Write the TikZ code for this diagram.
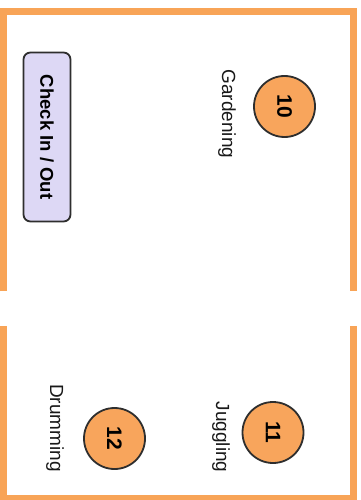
\documentclass[tikz,border=0pt]{standalone}
\usepackage{fontspec}
\setmainfont{Liberation Sans}
\definecolor{frameor}{HTML}{F8A457}
\definecolor{circor}{HTML}{F8A55C}
\definecolor{lav}{HTML}{DDD8F5}
\definecolor{edge}{HTML}{2E2E2E}
\begin{document}
\begin{tikzpicture}[x=1pt,y=-1pt,
  frame/.style={draw=frameor,line width=7pt},
  spot/.style={circle,draw=edge,line width=1.8pt,fill=circor,minimum size=61pt,inner sep=0pt,rotate=-90,font=\fontsize{21}{22}\selectfont\bfseries},
  lbl/.style={rotate=-90,inner sep=0pt,font=\fontsize{19}{20}\selectfont,text=black!90},
  desk/.style={draw=edge,line width=1.8pt,fill=lav,rounded corners=7pt,minimum width=169pt,minimum height=47pt,inner sep=0pt,rotate=-90,font=\fontsize{18.5}{20}\selectfont\bfseries}]
\useasboundingbox (0,0) rectangle (360,500);
\fill[white] (0,0) rectangle (360,500);
\coordinate (tl1) at (3.5,291);
\coordinate (tl2) at (3.5,11.5);
\coordinate (tr2) at (353.5,11.5);
\coordinate (tr1) at (353.5,291);
\coordinate (bl1) at (3.5,326);
\coordinate (bl2) at (3.5,498.5);
\coordinate (br2) at (353.5,498.5);
\coordinate (br1) at (353.5,326);
\draw[frame] (tl1) -- (tl2) -- (tr2) -- (tr1);
\draw[frame] (bl1) -- (bl2) -- (br2) -- (br1);
\node[desk] (desk) at (47,137) {Check In / Out};
\node[spot] (s10) at (284.5,106.5) {10};
\node[lbl] (l10) at (227,114) {Gardening};
\node[spot] (s11) at (273,432.5) {11};
\node[lbl] (l11) at (221,437) {Juggling};
\node[spot] (s12) at (114.5,438.5) {12};
\node[lbl] (l12) at (55,428) {Drumming};
\end{tikzpicture}
\end{document}
